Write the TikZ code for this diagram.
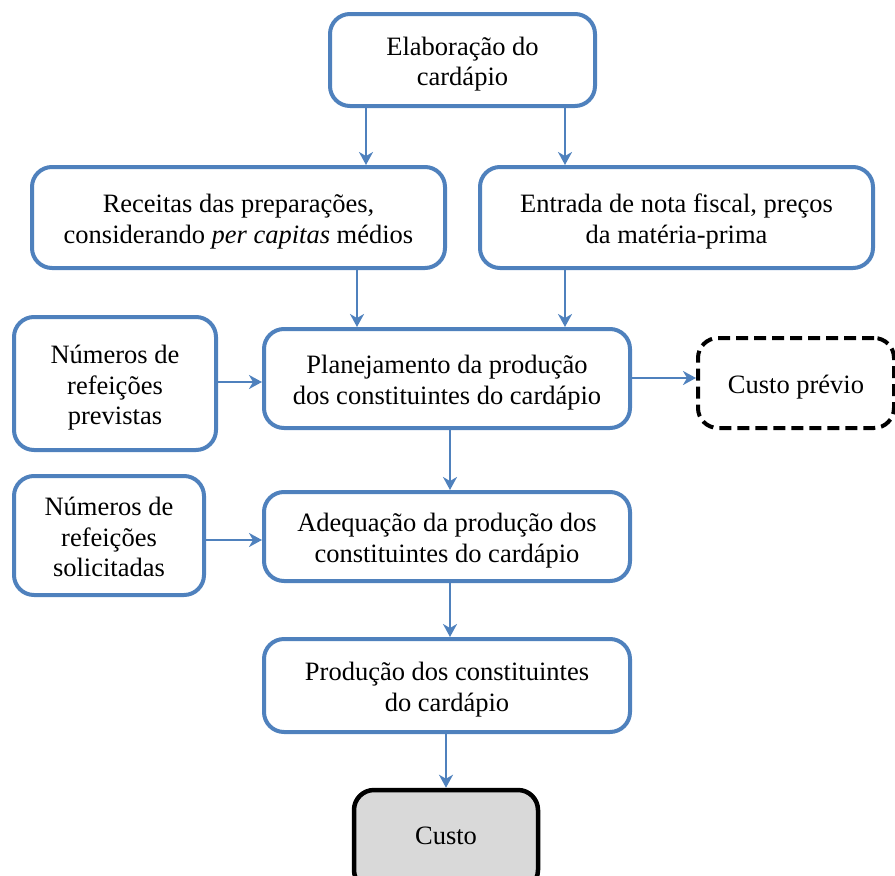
\documentclass[tikz,border=0pt]{standalone}
\usepackage{fontspec}
\setmainfont{Liberation Serif}
\usetikzlibrary{arrows.meta}
\definecolor{boxblue}{RGB}{79,129,189}
\definecolor{custogray}{RGB}{217,217,217}
% multi-line box text, set a little below the geometric centre
\newcommand{\boxtext}[1]{\raisebox{-4.5pt}[\height][\depth]{\begin{tabular}{@{}c@{}}#1\end{tabular}}}
\begin{document}
\begin{tikzpicture}[x=1pt,y=-1pt,
  every node/.style={font=\fontsize{26.5}{30.5}\selectfont, align=center, inner sep=0pt},
  bluebox/.style={draw=boxblue, line width=4pt, rounded corners=20pt, fill=white},
  dashbox/.style={draw=black, line width=4pt, rounded corners=20pt, dash pattern=on 12pt off 6pt},
  graybox/.style={draw=black, line width=4.5pt, rounded corners=20pt, fill=custogray},
  arr/.style={draw=boxblue, line width=2pt, -{Stealth[length=13pt,width=14pt,inset=4pt]}}]
\useasboundingbox (0,0) rectangle (895,876);
\clip (0,0) rectangle (895,876);

% process boxes
\node[bluebox, minimum width=265pt, minimum height=92pt] (elab) at (462.5,60) {\boxtext{Elaboração do\\cardápio}};
\node[bluebox, minimum width=413pt, minimum height=101pt] (rec) at (238.5,217.5) {\boxtext{Receitas das preparações,\\considerando \textit{per capitas} médios}};
\node[bluebox, minimum width=393pt, minimum height=101pt] (nota) at (676.5,217.5) {\boxtext{Entrada de nota fiscal, preços\\da matéria-prima}};
\node[bluebox, minimum width=202pt, minimum height=133pt] (prev) at (115,383.5) {\boxtext{Números de\\refeições\\previstas}};
\node[bluebox, minimum width=366pt, minimum height=99pt] (plan) at (447,378.5) {\boxtext{Planejamento da produção\\dos constituintes do cardápio}};
\node[dashbox, minimum width=196pt, minimum height=90pt] (cprev) at (796,383) {\boxtext{Custo prévio}};
\node[bluebox, minimum width=190pt, minimum height=119pt] (solic) at (109,535.5) {\boxtext{Números de\\refeições\\solicitadas}};
\node[bluebox, minimum width=366pt, minimum height=89pt] (adeq) at (447,536.5) {\boxtext{Adequação da produção dos\\constituintes do cardápio}};
\node[bluebox, minimum width=366pt, minimum height=93pt] (prod) at (447,685.5) {\boxtext{Produção dos constituintes\\do cardápio}};
\node[graybox, minimum width=184pt, minimum height=100pt] (custo) at (446,840) {\raisebox{8pt}{Custo}};

% connector lanes
\coordinate (xa) at (366,0);
\coordinate (xb) at (565,0);
\coordinate (xc) at (357,0);
\coordinate (xd) at (450,0);
\coordinate (xe) at (446,0);
\coordinate (ya) at (0,382);
\coordinate (yb) at (0,378);
\coordinate (yc) at (0,540);

% connectors
\draw[arr] (elab.south -| xa) -- (rec.north -| xa);
\draw[arr] (elab.south -| xb) -- (nota.north -| xb);
\draw[arr] (rec.south -| xc) -- (plan.north -| xc);
\draw[arr] (nota.south -| xb) -- (plan.north -| xb);
\draw[arr] (prev.east |- ya) -- (plan.west |- ya);
\draw[arr] (plan.east |- yb) -- (cprev.west |- yb);
\draw[arr] (plan.south -| xd) -- (adeq.north -| xd);
\draw[arr] (solic.east |- yc) -- (adeq.west |- yc);
\draw[arr] (adeq.south -| xd) -- (prod.north -| xd);
\draw[arr] (prod.south -| xe) -- (custo.north -| xe);
\end{tikzpicture}
\end{document}
